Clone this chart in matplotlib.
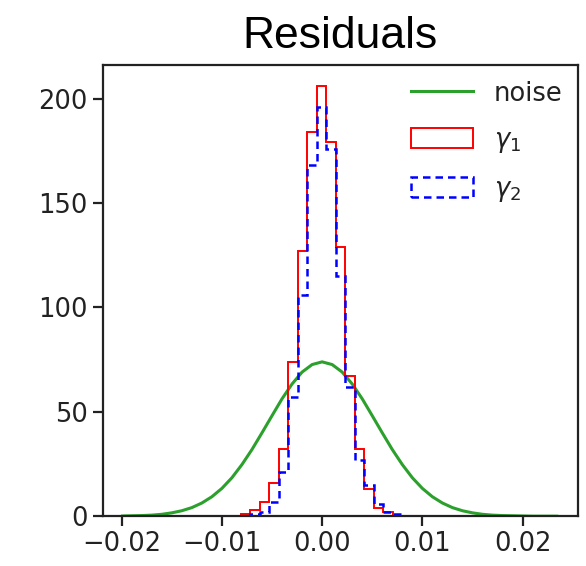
import numpy as np
import matplotlib
matplotlib.use("Agg")
import matplotlib.pyplot as plt

# histogram bin edges (shared by both residual histograms)
bin_edges = [-0.009986, -0.009039, -0.008092, -0.007145, -0.006198, -0.005251,
             -0.004304, -0.003357, -0.002410, -0.001463, -0.000516, 0.000431,
             0.001378, 0.002325, 0.003272, 0.004219, 0.005166, 0.006113,
             0.007060, 0.008007, 0.008954, 0.009901, 0.010848]

# counts per bin
gamma1_counts = [0, 0, 1, 3, 7, 16, 32, 74, 127, 184, 206, 179,
                 129, 67, 32, 13, 4, 2, 0, 0, 0, 0]
gamma2_counts = [0, 0, 0, 1, 2, 7, 21, 57, 106, 168, 196, 176,
                 115, 62, 27, 15, 6, 2, 1, 0, 0, 0]

# noise curve samples
noise_x = [-0.0199, -0.019, -0.018, -0.017, -0.016, -0.015, -0.014, -0.013,
           -0.012, -0.011, -0.010, -0.009, -0.008, -0.007, -0.006, -0.005,
           -0.004, -0.003, -0.002, -0.001, 0.0, 0.001, 0.002, 0.003, 0.004,
           0.005, 0.006, 0.007, 0.008, 0.009, 0.010, 0.011, 0.012, 0.013,
           0.014, 0.015, 0.016, 0.017, 0.018, 0.019, 0.020, 0.021, 0.022,
           0.023, 0.0234]
noise_y = [0.1, 0.2, 0.3, 0.5, 0.9, 1.6, 2.6, 4.1, 6.3, 9.3, 13.3, 18.4,
           24.7, 31.9, 39.9, 48.1, 56.2, 63.3, 69.0, 72.6, 73.9, 72.6, 69.0,
           63.3, 56.2, 48.1, 39.9, 31.9, 24.7, 18.4, 13.3, 9.3, 6.3, 4.1, 2.6,
           1.6, 0.9, 0.5, 0.3, 0.2, 0.1, 0.0, 0.0, 0.0, 0.0]

edges = np.array(bin_edges)
centers = 0.5 * (edges[:-1] + edges[1:])

fig = plt.figure(figsize=(5.86, 5.66), dpi=100)
ax = fig.add_axes([0.175, 0.088, 0.811, 0.797])

ax.plot(noise_x, noise_y, color='#2ca02c', lw=2.2, label='noise')
ax.hist(centers, bins=edges, weights=gamma1_counts, histtype='step',
        color='red', lw=1.4, label=r'$\gamma_1$')
ax.hist(centers, bins=edges, weights=gamma2_counts, histtype='step',
        color='blue', lw=1.8, ls=(0, (3, 2)), label=r'$\gamma_2$')

ax.set_xlim(-0.0219, 0.0255)
ax.set_ylim(0, 216)
ax.set_xticks([-0.02, -0.01, 0.0, 0.01, 0.02])
ax.set_yticks([0, 50, 100, 150, 200])
ax.tick_params(labelsize=18.5, length=7, width=1.6, colors='#222222',
               labelcolor='#222222')
for s in ax.spines.values():
    s.set_linewidth(1.6)
    s.set_color('#222222')

ax.set_title('Residuals', fontsize=32, family='Liberation Sans', pad=12)
ax.legend(loc='upper right', frameon=False, fontsize=18.5, handlelength=2.4,
          handleheight=0.8, labelspacing=0.8, borderaxespad=0.2,
          labelcolor='#222222')

fig.savefig('out.png', dpi=100)
